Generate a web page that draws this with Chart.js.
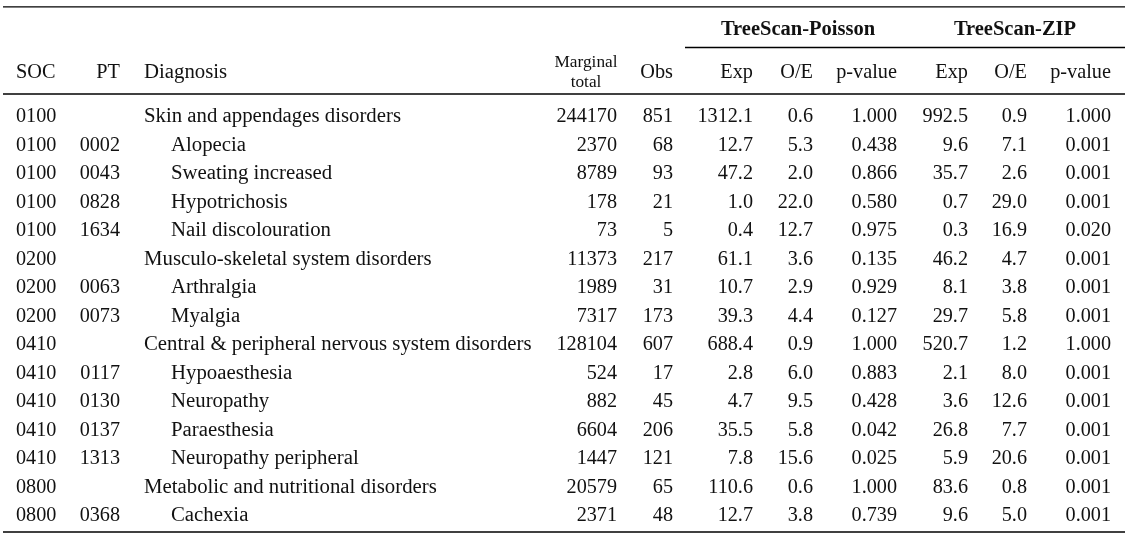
<!DOCTYPE html>
<html>
<head>
<meta charset="utf-8">
<script src="https://cdn.jsdelivr.net/npm/chart.js@4/dist/chart.umd.min.js"></script>
<style>
  html, body { margin: 0; padding: 0; background: #fff; }
  #wrap { width: 1130px; height: 540px; position: relative; }
</style>
</head>
<body>
<div id="wrap"><canvas id="c"></canvas></div>
<script>
// ---- data ----
const soc = ['0100','0100','0100','0100','0100','0200','0200','0200','0410','0410','0410','0410','0410','0800','0800'];
const pt = ['','0002','0043','0828','1634','','0063','0073','','0117','0130','0137','1313','','0368'];
const diagnosis = [
  'Skin and appendages disorders','Alopecia','Sweating increased','Hypotrichosis','Nail discolouration',
  'Musculo-skeletal system disorders','Arthralgia','Myalgia',
  'Central & peripheral nervous system disorders','Hypoaesthesia','Neuropathy','Paraesthesia','Neuropathy peripheral',
  'Metabolic and nutritional disorders','Cachexia'
];
const marginalTotal = [244170, 2370, 8789, 178, 73, 11373, 1989, 7317, 128104, 524, 882, 6604, 1447, 20579, 2371];
const obs = [851, 68, 93, 21, 5, 217, 31, 173, 607, 17, 45, 206, 121, 65, 48];
const poissonExp = [1312.1, 12.7, 47.2, 1.0, 0.4, 61.1, 10.7, 39.3, 688.4, 2.8, 4.7, 35.5, 7.8, 110.6, 12.7];
const poissonOE = [0.6, 5.3, 2.0, 22.0, 12.7, 3.6, 2.9, 4.4, 0.9, 6.0, 9.5, 5.8, 15.6, 0.6, 3.8];
const poissonP = [1.000, 0.438, 0.866, 0.580, 0.975, 0.135, 0.929, 0.127, 1.000, 0.883, 0.428, 0.042, 0.025, 1.000, 0.739];
const zipExp = [992.5, 9.6, 35.7, 0.7, 0.3, 46.2, 8.1, 29.7, 520.7, 2.1, 3.6, 26.8, 5.9, 83.6, 9.6];
const zipOE = [0.9, 7.1, 2.6, 29.0, 16.9, 4.7, 3.8, 5.8, 1.2, 8.0, 12.6, 7.7, 20.6, 0.8, 5.0];
const zipP = [1.000, 0.001, 0.001, 0.001, 0.020, 0.001, 0.001, 0.001, 1.000, 0.001, 0.001, 0.001, 0.001, 0.001, 0.001];
const headerLabels = ['SOC','PT','Diagnosis','Marginal\ntotal','Obs','Exp','O/E','p-value','Exp','O/E','p-value'];
const groupLabels = ['TreeScan-Poisson','TreeScan-ZIP'];

// ---- layout (positions / styles) ----
const FONT = '"Liberation Serif", "Times New Roman", serif';
const TEXT = '#111111';
const cols = [
  { x: 16,  align: 'left'  },   // SOC
  { x: 120, align: 'right' },   // PT
  { x: 144, align: 'left', indent: 27, size: 20.8 }, // Diagnosis
  { x: 617, align: 'right' },   // Marginal total
  { x: 673, align: 'right' },   // Obs
  { x: 753, align: 'right' },   // Exp
  { x: 813, align: 'right' },   // O/E
  { x: 897, align: 'right' },   // p-value
  { x: 968, align: 'right' },   // Exp
  { x: 1027, align: 'right' },  // O/E
  { x: 1111, align: 'right' }   // p-value
];
const groups = [ { from: 721, to: 875 }, { from: 955, to: 1075 } ];
const yHeader = -1.545, yGroup = -3.055;
const rules = [
  { y: -4.04, x0: 3, x1: 1125 },
  { y: -2.615, x0: 685, x1: 1125 },
  { y: -0.985, x0: 3, x1: 1125 },
  { y: 14.385, x0: 3, x1: 1125 }
];

const nRows = soc.length;
function cellTexts(i) {
  return [
    soc[i], pt[i], diagnosis[i],
    String(marginalTotal[i]), String(obs[i]),
    poissonExp[i].toFixed(1), poissonOE[i].toFixed(1), poissonP[i].toFixed(3),
    zipExp[i].toFixed(1), zipOE[i].toFixed(1), zipP[i].toFixed(3)
  ];
}

const points = [];
for (let i = 0; i < nRows; i++) cols.forEach(c => points.push({ x: c.x, y: i }));

const tablePlugin = {
  id: 'tableDraw',
  afterDatasetsDraw(chart) {
    const ctx = chart.ctx;
    const xs = chart.scales.x, ys = chart.scales.y;
    ctx.save();
    // rules
    ctx.strokeStyle = '#000';
    ctx.lineWidth = 1.4;
    rules.forEach(r => {
      const py = ys.getPixelForValue(r.y);
      ctx.beginPath();
      ctx.moveTo(xs.getPixelForValue(r.x0), py);
      ctx.lineTo(xs.getPixelForValue(r.x1), py);
      ctx.stroke();
    });
    ctx.fillStyle = TEXT;
    ctx.textBaseline = 'alphabetic';
    // group labels
    ctx.font = 'bold 20.5px ' + FONT;
    ctx.textAlign = 'center';
    groups.forEach((g, k) => {
      const cx = (xs.getPixelForValue(g.from) + xs.getPixelForValue(g.to)) / 2;
      ctx.fillText(groupLabels[k], cx, ys.getPixelForValue(yGroup));
    });
    // headers
    headerLabels.forEach((lab, k) => {
      const c = cols[k];
      const py = ys.getPixelForValue(yHeader);
      if (lab.indexOf('\n') >= 0) {
        const parts = lab.split('\n');
        ctx.font = '17.3px ' + FONT;
        ctx.textAlign = 'center';
        const cx = xs.getPixelForValue(c.x) - 31;
        ctx.fillText(parts[0], cx, py - 11);
        ctx.fillText(parts[1], cx, py + 9);
      } else {
        ctx.font = (c.size || 20.3) + 'px ' + FONT;
        ctx.textAlign = c.align;
        ctx.fillText(lab, xs.getPixelForValue(c.x), py);
      }
    });
    // body
    for (let i = 0; i < nRows; i++) {
      const t = cellTexts(i);
      const py = ys.getPixelForValue(i);
      t.forEach((s, k) => {
        const c = cols[k];
        ctx.font = (c.size || 20.2) + 'px ' + FONT;
        let px = xs.getPixelForValue(c.x);
        if (c.indent && pt[i] !== '') px += c.indent;
        ctx.textAlign = c.align;
        ctx.fillText(s, px, py);
      });
    }
    ctx.restore();
  }
};

new Chart(document.getElementById('c'), {
  type: 'scatter',
  data: { datasets: [{ data: points, pointRadius: 0, pointHoverRadius: 0, showLine: false }] },
  options: {
    responsive: true,
    maintainAspectRatio: false,
    animation: false,
    events: [],
    layout: { padding: 0 },
    plugins: { legend: { display: false }, tooltip: { enabled: false } },
    scales: {
      x: { type: 'linear', min: 0, max: 1130, display: false },
      y: { type: 'linear', reverse: true, min: -122 / 28.5, max: -122 / 28.5 + 540 / 28.5, display: false }
    }
  },
  plugins: [tablePlugin]
});
</script>
</body>
</html>
